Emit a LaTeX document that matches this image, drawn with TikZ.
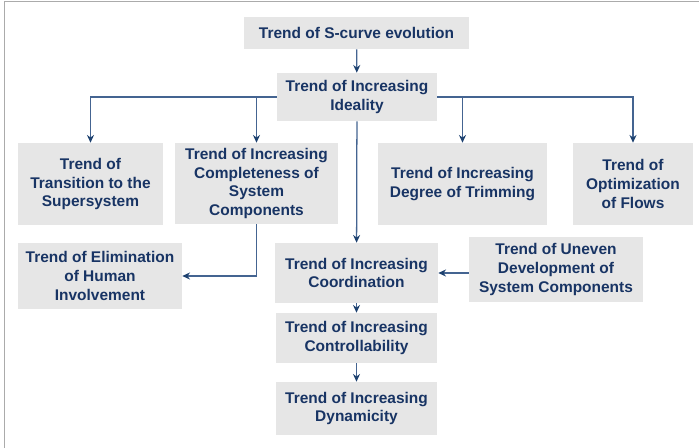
\documentclass[tikz,border=0pt]{standalone}
\usepackage{fontspec}
\setmainfont{Liberation Sans}
\usepackage{tikz}
\usetikzlibrary{arrows.meta}
\definecolor{trendtext}{RGB}{24,52,100}
\definecolor{trendline}{RGB}{68,100,145}
\definecolor{trendtip}{RGB}{30,66,112}
\definecolor{trendfill}{RGB}{230,230,230}
\tikzset{trend/.style={fill=trendfill, text=trendtext, font=\fontsize{11}{13.4}\selectfont\bfseries, align=center, inner sep=0pt},
         box/.style 2 args={trend, minimum width=#1*0.025cm, minimum height=#2*0.025cm},
         arr/.style={draw=trendline, line width=0.9pt, -{Stealth[length=5.5pt, width=5pt, color=trendtip]}}}

\begin{document}
\begin{tikzpicture}[x=0.025cm, y=-0.025cm]
                 \useasboundingbox (0,0) rectangle (699,448);
                 \draw[line width=1.4pt, draw=black!33] (4.5,448) -- (4.5,1.5) -- (699,1.5);

                 \node[box={225}{32}] (scurve) at (356.5,33) {Trend of S-curve evolution};
                 \node[box={160}{48}] (ideal) at (357,97) {Trend of Increasing\\Ideality};

%                 second row
                 \node[box={145}{82}] (trans) at (90.5,184) {Trend of\\Transition to the\\Supersystem};
                 \node[box={163}{81}] (compl) at (256.5,183.5) {Trend of Increasing\\Completeness of\\System\\Components};
                 \node[box={169}{82}] (trim) at (462.5,184) {Trend of Increasing\\Degree of Trimming};
                 \node[box={120}{82}] (optim) at (633,184) {Trend of\\Optimization\\of Flows};

%                 lower part
                 \node[box={164}{66}] (elim) at (100,276) {Trend of Elimination\\of Human\\Involvement};
                 \node[box={163}{60}] (coord) at (356.5,273) {Trend of Increasing\\Coordination};
                 \node[box={174}{65}] (uneven) at (556,269.5) {Trend of Uneven\\Development of\\System Components};
                 \node[box={161}{50}] (control) at (356.5,338) {Trend of Increasing\\Controllability};
                 \node[box={161}{53}] (dyn) at (356.5,408.5) {Trend of Increasing\\Dynamicity};

                 \draw[arr] (scurve) -- (ideal);
                 \draw[arr] (ideal.west) -| (trans.north);
                 \draw[arr] (ideal.west) -| (compl.north);
                 \draw[arr] (ideal.east) -| (trim.north);
                 \draw[arr] (ideal.east) -| (optim.north);
                 \draw[arr] (ideal) -- (coord);
                 \draw[arr] (compl.south) |- (elim.east);
                 \draw[arr] (uneven.west |- coord.east) -- (coord.east);
                 \draw[arr] (coord) -- (control);
                 \draw[arr] (control) -- (dyn);

\end{tikzpicture}
\end{document}
